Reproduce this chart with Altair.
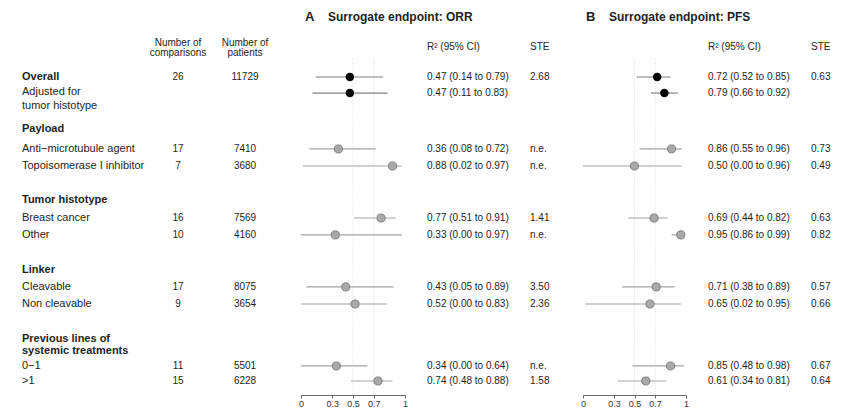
import altair as alt
import pandas as pd

# ---------------- data ----------------
labels = ["Overall", "Adjusted for\ntumor histotype", "Payload", "Anti−microtubule agent",
          "Topoisomerase I inhibitor", "Tumor histotype", "Breast cancer", "Other", "Linker",
          "Cleavable", "Non cleavable", "Previous lines of\nsystemic treatments", "0−1", ">1"]
label_bold = [True, False, True, False, False, True, False, False, True, False, False, True, False, False]

row_names = ["Overall", "Adjusted", "Anti-microtubule agent", "Topoisomerase I inhibitor",
             "Breast cancer", "Other", "Cleavable", "Non cleavable", "0-1", ">1"]
overall_flag = [True, True, False, False, False, False, False, False, False, False]
n_comparisons = ["26", "", "17", "7", "16", "10", "17", "9", "11", "15"]
n_patients = ["11729", "", "7410", "3680", "7569", "4160", "8075", "3654", "5501", "6228"]

orr_est = [0.47, 0.47, 0.36, 0.88, 0.77, 0.33, 0.43, 0.52, 0.34, 0.74]
orr_lo = [0.14, 0.11, 0.08, 0.02, 0.51, 0.00, 0.05, 0.00, 0.00, 0.48]
orr_hi = [0.79, 0.83, 0.72, 0.97, 0.91, 0.97, 0.89, 0.83, 0.64, 0.88]
orr_ste = ["2.68", "", "n.e.", "n.e.", "1.41", "n.e.", "3.50", "2.36", "n.e.", "1.58"]

pfs_est = [0.72, 0.79, 0.86, 0.50, 0.69, 0.95, 0.71, 0.65, 0.85, 0.61]
pfs_lo = [0.52, 0.66, 0.55, 0.00, 0.44, 0.86, 0.38, 0.02, 0.48, 0.34]
pfs_hi = [0.85, 0.92, 0.96, 0.96, 0.82, 0.99, 0.89, 0.95, 0.98, 0.81]
pfs_ste = ["0.63", "", "0.73", "0.49", "0.63", "0.82", "0.57", "0.66", "0.67", "0.64"]

ref_lines = [0.5, 0.7]
tick_values = [0, 0.3, 0.5, 0.7, 1]

# ---------------- layout (row slots, not data) ----------------
# multi-line labels are anchored at their first line
label_slot = [0, 0.89, 3.05, 4.26, 5.27, 7.28, 8.35, 9.35, 11.43, 12.43, 13.44, 15.51, 17.11, 18.0]
row_slot = [0, 0.95, 4.26, 5.27, 8.35, 9.35, 12.43, 13.44, 17.11, 18.0]

FONT = "Liberation Sans"
TXT = "#1e1e1e"

def ci(e, l, h):
    return f"{e:.2f} ({l:.2f} to {h:.2f})"

rows = pd.DataFrame({
    "name": row_names, "pos": row_slot, "overall": overall_flag,
    "comp": n_comparisons, "pat": n_patients,
    "estA": orr_est, "loA": orr_lo, "hiA": orr_hi, "steA": orr_ste,
    "ciA": [ci(e, l, h) for e, l, h in zip(orr_est, orr_lo, orr_hi)],
    "estB": pfs_est, "loB": pfs_lo, "hiB": pfs_hi, "steB": pfs_ste,
    "ciB": [ci(e, l, h) for e, l, h in zip(pfs_est, pfs_lo, pfs_hi)],
})
labs = pd.DataFrame({"label": labels, "pos": label_slot, "bold": label_bold})
refs = pd.DataFrame({"ref": ref_lines})

ysc = alt.Scale(domain=[0, 18], range=[77, 381])
Y = alt.Y("pos:Q", scale=ysc, axis=None)

# ---------------- left table ----------------
lab_norm = alt.Chart(labs).transform_filter("!datum.bold").mark_text(
    align="left", baseline="middle", font=FONT, fontSize=11, color=TXT, lineBreak="\n", lineHeight=14
).encode(x=alt.value(22), y=Y, text="label:N")
lab_bold = alt.Chart(labs).transform_filter("datum.bold").mark_text(
    align="left", baseline="middle", font=FONT, fontSize=11, fontWeight="bold", color=TXT,
    lineBreak="\n", lineHeight=12
).encode(x=alt.value(22), y=Y, text="label:N")

comp_col = alt.Chart(rows).mark_text(align="center", baseline="middle", font=FONT, fontSize=10, color=TXT
                                     ).encode(x=alt.value(178), y=Y, text="comp:N")
pat_col = alt.Chart(rows).mark_text(align="center", baseline="middle", font=FONT, fontSize=10, color=TXT
                                    ).encode(x=alt.value(245), y=Y, text="pat:N")


def htext(t, x, y, size=10, weight="normal", align="left", lh=11):
    return alt.Chart(pd.DataFrame({"t": [t]})).mark_text(
        align=align, baseline="middle", font=FONT, fontSize=size, fontWeight=weight, color=TXT,
        lineBreak="\n", lineHeight=lh
    ).encode(x=alt.value(x), y=alt.value(y), text="t:N")


headers = [
    htext("Number of\ncomparisons", 178, 43, align="center", lh=10),
    htext("Number of\npatients", 245, 43, align="center", lh=10),
    htext("A", 305, 17, size=13, weight="bold"),
    htext("Surrogate endpoint: ORR", 328, 17, size=12, weight="bold"),
    htext("B", 586, 17, size=13, weight="bold"),
    htext("Surrogate endpoint: PFS", 609, 17, size=12, weight="bold"),
    htext("R² (95% CI)", 427, 47),
    htext("STE", 530, 47),
    htext("R² (95% CI)", 708, 47),
    htext("STE", 811, 47),
]


def panel(sfx, rng, ci_x, ste_x):
    xsc = alt.Scale(domain=[0, 1], range=rng)
    ax = alt.Axis(values=tick_values, format="~g", title=None, grid=False, orient="bottom",
                  domainColor="#444", tickColor="#444", tickSize=3, labelFontSize=9,
                  labelFont=FONT, labelColor="#333", labelPadding=1, labelFlush=False,
                  labelOverlap=False, domainWidth=0.8, tickWidth=0.8)
    ref = alt.Chart(refs).mark_rule(color="#cfcfcf", strokeDash=[1, 1.5], strokeWidth=0.7).encode(
        x=alt.X("ref:Q", scale=xsc, axis=None), y=alt.value(58), y2=alt.value(395))
    whisk_sub = alt.Chart(rows).transform_filter("!datum.overall").mark_rule(
        color="#a3a3a3", strokeWidth=1.2).encode(
        x=alt.X(f"lo{sfx}:Q", scale=xsc, axis=ax), x2=f"hi{sfx}:Q", y=Y)
    whisk_ov = alt.Chart(rows).transform_filter("datum.overall").mark_rule(
        color="#808080", strokeWidth=1.2).encode(
        x=alt.X(f"lo{sfx}:Q", scale=xsc, axis=None), x2=f"hi{sfx}:Q", y=Y)
    pts_sub = alt.Chart(rows).transform_filter("!datum.overall").mark_point(
        filled=True, size=66, shape="circle", fill="#a9a9a9", stroke="#6e6e6e", strokeWidth=0.8,
        opacity=1).encode(x=alt.X(f"est{sfx}:Q", scale=xsc, axis=None), y=Y)
    pts_ov = alt.Chart(rows).transform_filter("datum.overall").mark_point(
        filled=True, size=72, shape="circle", fill="#000000", opacity=1).encode(
        x=alt.X(f"est{sfx}:Q", scale=xsc, axis=None), y=Y)
    ci_t = alt.Chart(rows).mark_text(align="left", baseline="middle", font=FONT, fontSize=10,
                                     color=TXT).encode(x=alt.value(ci_x), y=Y, text=f"ci{sfx}:N")
    ste_t = alt.Chart(rows).mark_text(align="left", baseline="middle", font=FONT, fontSize=10,
                                      color=TXT).encode(x=alt.value(ste_x), y=Y, text=f"ste{sfx}:N")
    return [ref, whisk_sub, whisk_ov, pts_sub, pts_ov, ci_t, ste_t]


layers = [lab_norm, lab_bold, comp_col, pat_col] + headers \
    + panel("A", [301, 405], 427, 530) + panel("B", [583, 686], 708, 811)

chart = alt.layer(*layers).resolve_scale(x="independent").properties(
    width=865, height=395,
    autosize=alt.AutoSizeParams(type="none"),
    padding={"left": 0, "top": 0, "right": 0, "bottom": 24},
    background="white",
).configure_view(stroke=None)

chart.save("out.html", embed_options={"renderer": "svg", "actions": False})
